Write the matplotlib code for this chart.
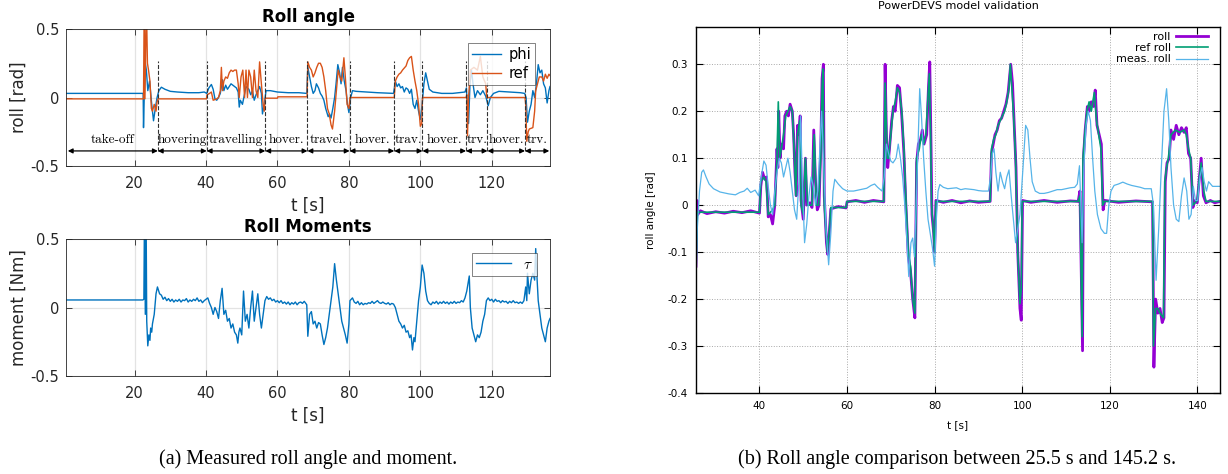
import numpy as np
import matplotlib
matplotlib.use("Agg")
import matplotlib.pyplot as plt

plt.rcParams["font.family"] = ["DejaVu Sans"]
plt.rcParams["mathtext.fontset"] = "cm"

# measured roll angle phi and reference (t [s], rad)
phi_pts = [
    (0.8, 0.03), (22.4, 0.03), (22.5, -0.22), (22.7, 0.0), (23.0, 0.25), (23.3, 0.2),
    (23.7, 0.05), (24.2, 0.12), (24.8, -0.05), (25.3, -0.17), (25.8, -0.08), (26.3, 0.0),
    (26.8, 0.05), (27.5, 0.075), (28.5, 0.06), (30, 0.045), (32, 0.04), (35, 0.035),
    (38, 0.035), (39.5, 0.04), (40.2, 0.03), (40.8, 0.07), (41.5, 0.095), (42.0, 0.06),
    (42.5, -0.01), (43.0, -0.02), (43.5, 0.0), (44.0, 0.03), (44.6, 0.13), (45.0, 0.05),
    (45.5, 0.09), (46.0, 0.06), (46.5, 0.08), (47.0, 0.1), (48.0, 0.08), (48.5, 0.07),
    (49.0, 0.04), (49.3, -0.07), (49.6, -0.02), (50.2, -0.05), (50.8, 0.03), (51.2, 0.08),
    (52.0, 0.06), (52.5, 0.02), (53.0, 0.05), (53.5, -0.02), (54.0, 0.02), (54.5, 0.05),
    (55.0, 0.08), (55.5, 0.03), (55.8, -0.12), (56.3, -0.05), (56.8, 0.05), (58, 0.05),
    (60, 0.04), (63, 0.035), (66, 0.035), (68.2, 0.03), (68.5, 0.22), (69.0, 0.15),
    (69.5, 0.08), (70.0, 0.03), (70.5, 0.05), (70.9, 0.1), (71.5, 0.07), (72.0, 0.03),
    (72.5, 0.01), (73.0, -0.02), (73.5, -0.08), (74.2, -0.14), (74.6, -0.12), (75.0, -0.15),
    (75.5, -0.08), (76.0, 0.0), (76.4, 0.1), (76.9, 0.24), (77.4, 0.18), (77.8, 0.1),
    (78.2, 0.22), (78.7, 0.12), (79.2, 0.05), (79.6, -0.05), (80.0, -0.11), (80.5, 0.0),
    (81.0, 0.05), (82, 0.045), (85, 0.04), (88, 0.035), (92.5, 0.03), (93.0, 0.12),
    (93.5, 0.08), (94.0, 0.1), (94.5, 0.07), (95.0, 0.08), (95.5, 0.04), (96.0, 0.07),
    (96.5, 0.06), (97.0, 0.03), (97.5, 0.06), (98.0, -0.05), (98.5, -0.08), (99.0, -0.02),
    (99.5, -0.1), (100.0, -0.16), (100.5, -0.05), (101.0, 0.1), (101.5, 0.18), (102.0, 0.12),
    (102.5, 0.06), (103.5, 0.04), (106, 0.03), (109, 0.03), (112.5, 0.04), (112.9, 0.07),
    (113.2, -0.1), (113.5, -0.19), (113.9, 0.1), (114.3, 0.2), (114.8, 0.09), (115.3, 0.0),
    (116, 0.05), (116.8, 0.02), (117.5, 0.05), (118.3, 0.01), (119.0, -0.06), (119.6, 0.0),
    (120.5, 0.03), (122, 0.045), (125, 0.04), (128, 0.035), (129.2, 0.03), (129.6, 0.0),
    (130.0, -0.18), (130.5, -0.1), (131.0, -0.05), (131.5, 0.05), (132.0, 0.0), (132.5, 0.1),
    (133.0, 0.24), (133.5, 0.18), (134.0, 0.2), (134.5, 0.1), (135.0, 0.07), (135.5, -0.04),
    (136.0, 0.05), (136.3, 0.08),
]
ref_pts = [
    (0.8, -0.01), (22.5, -0.01), (22.7, 0.7), (22.9, -0.01), (23.3, 0.7), (23.6, 0.25),
    (23.9, 0.2), (24.3, 0.12), (24.7, -0.08), (25.0, -0.1), (25.5, -0.05), (26.0, -0.1),
    (26.3, -0.03), (26.6, -0.01), (40.1, -0.01), (40.3, 0.02), (41.0, 0.03), (41.5, 0.04),
    (42.0, -0.02), (43.0, -0.01), (43.5, 0.0), (44.0, 0.05), (44.3, 0.22), (44.6, 0.05),
    (45.0, 0.12), (45.5, 0.15), (46.0, 0.14), (46.5, 0.18), (47.0, 0.2), (47.5, 0.19),
    (48.0, 0.2), (48.5, 0.2), (49.0, 0.1), (49.3, 0.0), (49.8, 0.15), (50.3, 0.2),
    (50.8, 0.0), (51.2, 0.2), (51.6, 0.0), (52.0, 0.2), (52.5, 0.15), (53.0, 0.0),
    (53.5, 0.2), (54.0, 0.05), (54.5, 0.0), (55.0, 0.26), (55.5, 0.1), (56.0, -0.05),
    (56.3, -0.1), (56.6, -0.005), (60, -0.005), (60.1, 0.005), (68.3, 0.005), (68.5, 0.26),
    (69.0, 0.22), (69.5, 0.2), (70.0, 0.15), (70.5, 0.18), (71.0, 0.22), (71.5, 0.25),
    (72.0, 0.25), (72.5, 0.22), (73.0, 0.15), (73.5, 0.05), (74.0, -0.08), (74.5, -0.12),
    (75.0, -0.2), (75.4, -0.23), (76.0, -0.1), (76.5, 0.05), (77.0, 0.2), (77.5, 0.15),
    (78.0, 0.12), (78.6, 0.29), (79.0, 0.15), (79.5, -0.05), (80.0, -0.08), (80.3, 0.0),
    (92.7, 0.0), (93.0, 0.12), (93.5, 0.15), (94.0, 0.17), (94.5, 0.18), (95.0, 0.2),
    (96.0, 0.23), (96.5, 0.27), (97.0, 0.29), (97.5, 0.3), (98.0, 0.2), (98.5, 0.12),
    (99.0, 0.05), (99.5, -0.05), (100.0, -0.21), (100.4, -0.19), (100.6, 0.0), (112.8, 0.0),
    (113.0, 0.02), (113.2, -0.28), (113.5, 0.0), (114.0, 0.2), (115.0, 0.22), (116.0, 0.2),
    (116.8, 0.3), (117.5, 0.15), (118.3, 0.1), (118.6, 0.0), (129.3, 0.0), (129.5, -0.05),
    (129.8, -0.32), (130.2, -0.25), (130.5, -0.23), (131.5, -0.22), (132.0, -0.1),
    (132.3, 0.05), (132.8, 0.1), (133.3, 0.15), (134.0, 0.15), (134.5, 0.12), (135.0, 0.17),
    (135.5, 0.14), (136.0, 0.17), (136.3, 0.16),
]
# roll moment tau (t [s], Nm)
tau_pts = [
    (0.8, 0.055), (22.3, 0.055), (22.6, 0.06), (22.8, 0.8), (23.0, -0.05), (23.2, 0.8),
    (23.4, -0.1), (23.7, -0.28), (24.0, -0.2), (24.3, -0.24), (24.5, -0.15), (24.8, -0.18),
    (25.0, -0.12), (25.5, -0.05), (26.0, 0.1), (26.4, 0.15), (27.0, 0.1), (27.5, 0.09),
    (28.0, 0.06), (28.5, 0.075), (29.0, 0.05), (29.5, 0.065), (30.0, 0.045), (30.5, 0.06),
    (31.0, 0.04), (31.5, 0.055), (32.0, 0.045), (32.5, 0.06), (33.0, 0.04), (33.5, 0.055),
    (34.0, 0.05), (34.5, 0.065), (35.0, 0.04), (35.5, 0.055), (36.0, 0.045), (36.5, 0.06),
    (37.0, 0.05), (37.5, 0.07), (38.0, 0.045), (38.5, 0.055), (39.0, 0.035), (39.5, 0.05),
    (40.0, 0.06), (40.5, 0.07), (41.0, 0.03), (41.5, 0.0), (42.0, -0.05), (42.5, 0.0),
    (43.0, -0.03), (43.5, -0.08), (44.0, 0.05), (44.5, 0.14), (45.0, -0.05), (45.5, -0.02),
    (46.0, -0.1), (46.5, -0.08), (47.0, -0.15), (47.5, -0.12), (48.0, -0.18), (48.5, -0.2),
    (48.9, -0.26), (49.2, -0.18), (49.5, -0.15), (50.0, -0.2), (50.5, 0.12), (51.0, -0.1),
    (51.5, -0.05), (52.0, -0.15), (52.5, 0.0), (53.0, 0.12), (53.5, -0.1), (54.0, 0.0),
    (54.5, 0.1), (55.0, -0.05), (55.5, -0.15), (56.0, -0.05), (56.5, 0.05), (57.0, 0.08),
    (57.5, 0.06), (58.0, 0.07), (58.5, 0.05), (59.0, 0.06), (59.5, 0.04), (60.0, 0.05),
    (60.5, 0.035), (61.0, 0.05), (61.5, 0.03), (62.0, 0.04), (62.5, 0.025), (63.0, 0.04),
    (63.5, 0.02), (64.0, 0.035), (64.5, 0.025), (65.0, 0.04), (65.5, 0.02), (66.0, 0.035),
    (66.5, 0.04), (67.0, 0.03), (67.5, 0.045), (68.2, 0.02), (68.5, -0.21), (69.0, -0.05),
    (69.5, -0.03), (70.0, -0.12), (70.5, -0.1), (71.0, -0.15), (71.5, -0.11), (72.0, -0.12),
    (72.5, -0.2), (73.0, -0.27), (73.5, -0.22), (74.0, -0.15), (74.5, -0.05), (75.0, 0.05),
    (75.5, 0.15), (76.0, 0.32), (76.5, 0.2), (77.0, 0.1), (77.5, 0.0), (78.0, -0.1),
    (78.5, -0.15), (79.0, -0.2), (79.5, -0.26), (80.0, -0.12), (80.3, 0.05), (81.0, 0.07),
    (81.5, 0.04), (82.0, 0.03), (82.5, 0.045), (83.0, 0.02), (83.5, 0.035), (84.0, 0.02),
    (84.5, 0.03), (85.0, 0.025), (85.5, 0.035), (86.0, 0.03), (86.5, 0.045), (87.0, 0.03),
    (87.5, 0.04), (88.0, 0.05), (88.5, 0.035), (89.0, 0.03), (89.5, 0.04), (90.0, 0.03),
    (90.5, 0.025), (91.0, 0.035), (91.5, 0.02), (92.0, 0.03), (92.5, 0.025), (93.0, 0.0),
    (93.5, -0.05), (94.0, -0.1), (94.5, -0.12), (95.0, -0.15), (95.5, -0.13), (96.0, -0.18),
    (96.5, -0.17), (97.0, -0.22), (97.4, -0.2), (97.8, -0.31), (98.2, -0.22), (98.5, -0.25),
    (99.0, -0.1), (99.5, 0.05), (100.0, 0.15), (100.5, 0.31), (101.0, 0.25), (101.5, 0.12),
    (102.0, 0.05), (102.5, 0.03), (103.0, 0.02), (103.5, 0.04), (104.0, 0.03), (104.5, 0.045),
    (105.0, 0.025), (105.5, 0.04), (106.0, 0.03), (106.5, 0.045), (107.0, 0.03),
    (107.5, 0.04), (108.0, 0.025), (108.5, 0.04), (109.0, 0.03), (109.5, 0.045),
    (110.0, 0.03), (110.5, 0.04), (111.0, 0.035), (111.5, 0.05), (112.0, 0.04), (112.5, 0.07),
    (113.0, 0.12), (113.7, 0.23), (114.0, 0.0), (114.5, -0.15), (115.0, -0.2), (115.5, -0.25),
    (116.0, -0.2), (116.5, -0.22), (117.0, -0.18), (117.5, -0.1), (118.0, -0.05),
    (118.5, 0.05), (119.0, 0.07), (119.5, 0.05), (120.0, 0.06), (120.5, 0.04), (121.0, 0.06),
    (121.5, 0.045), (122.0, 0.05), (122.5, 0.035), (123.0, 0.05), (123.5, 0.04),
    (124.0, 0.045), (124.5, 0.03), (125.0, 0.045), (125.5, 0.035), (126.0, 0.05),
    (126.5, 0.035), (127.0, 0.04), (127.5, 0.03), (128.0, 0.04), (128.5, 0.03),
    (129.0, 0.05), (129.5, 0.15), (129.8, 0.05), (130.0, 0.25), (130.5, 0.1), (131.0, 0.2),
    (131.5, 0.25), (132.0, 0.2), (132.3, 0.43), (132.7, 0.2), (133.0, 0.05), (133.5, -0.05),
    (134.0, -0.15), (134.5, -0.2), (135.0, -0.25), (135.5, -0.15), (136.0, -0.1),
    (136.3, -0.08),
]

# flight phases: boundaries [s] and their names
phase_edges = [1.3, 26.5, 40.2, 56.6, 68.4, 80.2, 92.7, 100.6, 112.8, 118.8, 129.3, 136.1]
phase_names = ["take-off", "hovering", "travelling", "hover.", "travel.", "hover.",
               "trav.", "hover.", "trv.", "hover.", "trv."]

# PowerDEVS simulation vs. measurement (t [s], rad)
sim_roll_pts = [
    (25.5, -0.13), (25.7, 0.01), (25.9, -0.02), (26.5, -0.012), (28, -0.018), (30, -0.014),
    (32, -0.017), (34, -0.013), (36, -0.016), (38, -0.012), (40.0, -0.017), (40.3, 0.04),
    (40.7, 0.07), (41.2, 0.055), (41.6, 0.06), (42.0, -0.025), (42.5, -0.02), (43.0, -0.04),
    (43.5, 0.0), (44.0, 0.12), (44.2, 0.08), (44.4, 0.2), (44.7, 0.1), (45.0, 0.13),
    (45.5, 0.12), (45.8, 0.19), (46.2, 0.2), (46.6, 0.19), (47.0, 0.215), (47.5, 0.2),
    (47.8, 0.15), (48.1, 0.07), (48.4, 0.02), (48.7, 0.17), (49.0, 0.15), (49.3, 0.19),
    (49.5, 0.01), (50.0, -0.03), (50.5, 0.1), (50.8, 0.0), (51.5, 0.005), (52.0, -0.005),
    (52.4, 0.16), (52.8, 0.05), (53.2, -0.01), (53.6, 0.0), (54.0, 0.12), (54.3, 0.27),
    (54.6, 0.3), (54.8, 0.02), (55.3, -0.08), (55.6, -0.105), (56.0, -0.05), (56.3, -0.008),
    (58, -0.003), (59.8, -0.006), (60.0, 0.007), (62, 0.01), (64, 0.006), (66, 0.01),
    (68.4, 0.007), (68.7, 0.3), (69.0, 0.15), (69.3, 0.08), (69.7, 0.12), (70.2, 0.18),
    (70.6, 0.21), (71.0, 0.2), (71.5, 0.255), (72.0, 0.25), (72.5, 0.19), (73.0, 0.11),
    (73.4, 0.01), (74.0, -0.11), (74.5, -0.14), (75.0, -0.2), (75.5, -0.24), (75.9, 0.09),
    (76.3, 0.13), (76.8, 0.14), (77.2, 0.16), (77.6, 0.13), (78.2, 0.15), (78.6, 0.25),
    (78.9, 0.305), (79.2, 0.12), (79.4, -0.02), (79.8, -0.06), (80.0, -0.1), (80.3, 0.01),
    (82, 0.006), (84, 0.01), (86, 0.005), (88, 0.009), (90, 0.006), (92.7, 0.008),
    (93.0, 0.11), (93.4, 0.13), (93.8, 0.15), (94.3, 0.16), (94.8, 0.18), (95.3, 0.185),
    (95.8, 0.2), (96.3, 0.215), (96.8, 0.24), (97.1, 0.27), (97.4, 0.3), (97.8, 0.26),
    (98.2, 0.17), (98.6, 0.08), (99.0, -0.1), (99.5, -0.22), (99.8, -0.245), (100.1, 0.01),
    (102, 0.006), (105, 0.01), (108, 0.006), (111, 0.009), (112.8, 0.008), (113.2, 0.03),
    (113.8, -0.31), (114.0, 0.1), (114.4, 0.16), (114.9, 0.21), (115.3, 0.2), (115.8, 0.22),
    (116.3, 0.21), (116.7, 0.245), (117.1, 0.17), (117.6, 0.15), (118.1, 0.13),
    (118.5, -0.01), (118.9, 0.01), (122, 0.006), (126, 0.009), (129.8, 0.007),
    (130.1, -0.345), (130.5, -0.2), (131.0, -0.23), (131.5, -0.22), (132.0, -0.25),
    (132.4, -0.24), (132.7, 0.05), (133.1, 0.09), (133.6, 0.1), (134.0, 0.16), (134.6, 0.14),
    (135.2, 0.17), (135.8, 0.15), (136.4, 0.165), (137.0, 0.155), (137.5, 0.165),
    (138.0, 0.11), (138.5, 0.1), (139.0, -0.005), (139.5, 0.01), (140.0, 0.005),
    (140.5, 0.06), (140.9, 0.1), (141.4, 0.02), (142.0, 0.005), (143, 0.01), (144, 0.005),
    (145.2, 0.008),
]
sim_ref_pts = [
    (25.5, -0.15), (25.8, -0.015), (40.0, -0.015), (40.3, 0.05), (41.0, 0.06), (41.5, 0.05),
    (42.0, -0.02), (43.0, -0.01), (43.5, 0.0), (44.0, 0.1), (44.3, 0.22), (44.6, 0.1),
    (45.0, 0.12), (45.5, 0.15), (46.0, 0.19), (46.5, 0.2), (47.0, 0.21), (47.5, 0.2),
    (48.0, 0.1), (48.3, 0.02), (48.7, 0.15), (49.2, 0.18), (49.5, 0.0), (50.0, -0.02),
    (50.5, 0.1), (51.0, 0.0), (52.0, 0.0), (52.5, 0.15), (53.0, 0.0), (53.5, 0.0),
    (54.0, 0.1), (54.3, 0.25), (54.5, 0.29), (54.8, 0.0), (55.5, -0.1), (56.0, -0.05),
    (56.3, -0.005), (59.8, -0.005), (60.0, 0.008), (68.4, 0.008), (68.7, 0.26), (69.2, 0.1),
    (69.5, 0.1), (70.0, 0.15), (70.5, 0.2), (71.0, 0.22), (71.5, 0.25), (72.0, 0.24),
    (72.5, 0.2), (73.0, 0.12), (73.5, 0.0), (74.0, -0.1), (74.5, -0.13), (75.0, -0.2),
    (75.5, -0.23), (75.9, 0.1), (76.5, 0.12), (77.0, 0.15), (77.5, 0.13), (78.0, 0.15),
    (78.8, 0.28), (79.1, 0.15), (79.3, 0.0), (79.7, -0.05), (80.0, -0.1), (80.3, 0.008),
    (92.7, 0.008), (93.0, 0.12), (93.5, 0.14), (94.0, 0.15), (94.5, 0.17), (95.0, 0.18),
    (95.5, 0.19), (96.0, 0.2), (96.5, 0.22), (97.0, 0.25), (97.3, 0.3), (98.0, 0.2),
    (98.5, 0.1), (99.0, -0.1), (99.5, -0.21), (99.8, -0.18), (100.0, 0.008), (112.8, 0.008),
    (113.2, 0.02), (113.7, -0.28), (113.9, 0.1), (114.3, 0.15), (114.8, 0.2), (115.3, 0.22),
    (115.8, 0.2), (116.5, 0.24), (117.0, 0.18), (117.5, 0.15), (118.0, 0.12), (118.4, 0.0),
    (118.8, 0.008), (129.8, 0.008), (130.0, -0.3), (130.5, -0.22), (131.0, -0.22),
    (131.5, -0.23), (132.3, -0.24), (132.6, 0.05), (133.0, 0.08), (133.4, 0.1), (134.0, 0.15),
    (135.0, 0.16), (136.0, 0.155), (137.0, 0.16), (137.5, 0.15), (138.0, 0.12), (138.5, 0.1),
    (139.0, 0.0), (140.0, 0.01), (140.4, 0.05), (140.9, 0.09), (141.5, 0.03), (142.0, 0.008),
    (145.2, 0.008),
]
meas_roll_pts = [
    (25.5, -0.15), (25.8, -0.05), (26.3, 0.03), (26.8, 0.07), (27.2, 0.075), (27.8, 0.06),
    (28.5, 0.045), (29.5, 0.035), (31, 0.028), (33, 0.024), (34.5, 0.022), (35.5, 0.027),
    (36.5, 0.03), (37.2, 0.036), (38, 0.027), (39, 0.032), (39.8, 0.02), (40.4, 0.06),
    (41.0, 0.094), (41.5, 0.085), (42.0, 0.04), (42.5, 0.0), (43.0, -0.02), (43.5, 0.03),
    (44.0, 0.07), (44.5, 0.1), (45.0, 0.09), (45.5, 0.06), (46.0, 0.08), (46.5, 0.1),
    (47.0, 0.07), (47.5, 0.03), (48.0, -0.01), (48.5, -0.03), (49.0, 0.05), (49.4, 0.19),
    (49.8, 0.05), (50.3, -0.08), (50.8, -0.04), (51.3, 0.02), (51.8, 0.06), (52.3, 0.04),
    (52.8, 0.0), (53.3, 0.03), (53.8, 0.12), (54.2, 0.2), (54.7, 0.08), (55.2, -0.05),
    (55.8, -0.127), (56.3, -0.06), (56.8, 0.03), (57.2, 0.055), (58, 0.045), (59, 0.035),
    (60, 0.03), (61.5, 0.03), (63, 0.033), (64.5, 0.036), (65.5, 0.042), (66.3, 0.045),
    (67, 0.038), (68, 0.03), (68.5, 0.06), (69.0, 0.13), (69.5, 0.11), (70.0, 0.094),
    (70.5, 0.09), (71.2, 0.1), (71.7, 0.13), (72.2, 0.1), (72.7, 0.06), (73.2, 0.0),
    (73.7, -0.08), (74.1, -0.152), (74.6, -0.08), (75.0, -0.07), (75.4, -0.11), (75.8, 0.0),
    (76.2, 0.12), (76.6, 0.248), (77.0, 0.19), (77.5, 0.1), (78.0, 0.03), (78.5, -0.03),
    (79.0, -0.06), (79.5, -0.09), (80.0, -0.13), (80.4, -0.03), (80.8, 0.03), (81.2, 0.044),
    (82, 0.038), (83, 0.035), (84, 0.036), (85, 0.037), (86, 0.033), (87, 0.035), (88, 0.034),
    (89, 0.033), (90, 0.031), (91, 0.03), (92.3, 0.03), (92.8, 0.06), (93.2, 0.11),
    (93.6, 0.12), (94.0, 0.07), (94.5, 0.03), (95.0, 0.07), (95.5, 0.05), (96.0, 0.035),
    (96.5, 0.06), (97.0, 0.075), (97.5, 0.02), (98.0, -0.03), (98.5, -0.08), (99.0, -0.05),
    (99.5, -0.02), (100.2, 0.08), (100.8, 0.17), (101.3, 0.16), (101.8, 0.1), (102.3, 0.05),
    (103, 0.03), (104, 0.025), (105, 0.025), (106, 0.027), (107, 0.03), (108, 0.033),
    (109, 0.033), (110, 0.035), (111, 0.037), (112, 0.038), (112.6, 0.045), (113.1, 0.084),
    (113.4, 0.0), (113.7, -0.08), (114.1, 0.08), (114.6, 0.17), (115.1, 0.2), (115.6, 0.18),
    (116.1, 0.1), (116.6, 0.03), (117.2, -0.02), (118.0, -0.05), (118.8, -0.06),
    (119.3, -0.06), (119.8, 0.0), (120.3, 0.03), (121, 0.042), (122, 0.045), (123, 0.049),
    (124, 0.045), (125, 0.042), (126, 0.04), (127, 0.038), (128, 0.035), (129.5, 0.035),
    (130.0, 0.0), (130.6, -0.16), (131.2, -0.05), (131.8, 0.08), (132.4, 0.2),
    (133.0, 0.248), (133.5, 0.18), (134.0, 0.08), (134.6, 0.0), (135.2, -0.03),
    (135.8, -0.035), (136.4, 0.02), (137.0, 0.058), (137.6, 0.03), (138.1, -0.03),
    (138.6, -0.02), (139.1, 0.04), (139.6, 0.01), (140.1, 0.01), (140.6, 0.06),
    (141.1, 0.08), (141.6, 0.05), (142.1, 0.03), (142.6, 0.05), (143.5, 0.04), (145.2, 0.04),
]

W, H = 1228, 474
MATLAB_BLUE = "#0072bd"
MATLAB_ORANGE = "#d95319"
DARK = "#262626"


def xy(pts):
    arr = np.array(pts, dtype=float)
    return arr[:, 0], arr[:, 1]


def matlab_axes(ax, ylabel, title):
    ax.set_xlim(0.8, 136.3)
    ax.set_ylim(-0.5, 0.5)
    ax.set_xticks(np.arange(20, 121, 20))
    ax.set_yticks([-0.5, 0, 0.5])
    ax.set_yticklabels(["-0.5", "0", "0.5"])
    ax.grid(True, color="#e3e3e3", lw=0.9)
    ax.set_axisbelow(True)
    ax.tick_params(direction="in", length=4, width=0.6, colors=DARK, labelsize=10.5,
                   top=True, right=True, pad=5)
    ax.tick_params(axis="x", pad=7)
    for s in ax.spines.values():
        s.set_color(DARK)
        s.set_linewidth(0.6)
    ax.set_xlabel("t [s]", fontsize=12, color=DARK, labelpad=4)
    ax.set_ylabel(ylabel, fontsize=12, color=DARK, labelpad=2)
    ax.set_title(title, fontsize=12, fontweight="bold", pad=5)


fig = plt.figure(figsize=(W / 100, H / 100), dpi=100)
ax1 = fig.add_axes([66 / W, 1 - 166 / H, 484 / W, 137 / H])
ax2 = fig.add_axes([66 / W, 1 - 376 / H, 484 / W, 137 / H])
ax3 = fig.add_axes([696 / W, 1 - 393 / H, 524 / W, 366.3 / H])

# --- roll angle -------------------------------------------------------------
matlab_axes(ax1, "roll [rad]", "Roll angle")
t, v = xy(phi_pts)
ax1.plot(t, v, color=MATLAB_BLUE, lw=1.0, label="phi")
t, v = xy(ref_pts)
ax1.plot(t, v, color=MATLAB_ORANGE, lw=1.0, label="ref")

y_arrow = -0.39
ax1.vlines(phase_edges[1:-1], y_arrow, 0.265, colors="#333333", linestyles="--", lw=0.8)
for a, b, name in zip(phase_edges[:-1], phase_edges[1:], phase_names):
    ax1.annotate("", xy=(b, y_arrow), xytext=(a, y_arrow),
                 arrowprops=dict(arrowstyle="<|-|>", color="black", lw=0.9,
                                 mutation_scale=7, shrinkA=0, shrinkB=0))
    ax1.text((a + b) / 2, y_arrow + 0.035, name, ha="center", va="bottom",
             family="cmr10", fontsize=9.5)

leg = ax1.legend(loc="upper right", bbox_to_anchor=(0.97, 0.9), fontsize=10.5,
                 fancybox=False, edgecolor=DARK, handlelength=2.0, handletextpad=0.5,
                 borderpad=0.3, labelspacing=0.25, borderaxespad=0)
leg.get_frame().set_linewidth(0.5)

# --- roll moments -----------------------------------------------------------
matlab_axes(ax2, "moment [Nm]", "Roll Moments")
t, v = xy(tau_pts)
ax2.plot(t, v, color=MATLAB_BLUE, lw=1.0, label=r"$\tau$")
leg = ax2.legend(loc="upper right", bbox_to_anchor=(0.973, 0.898), fontsize=11,
                 fancybox=False, edgecolor=DARK, handlelength=2.3, borderpad=0.25,
                 borderaxespad=0)
leg.get_frame().set_linewidth(0.5)

# --- PowerDEVS validation ---------------------------------------------------
t, v = xy(sim_roll_pts)
ax3.plot(t, v, color="#9400d3", lw=2.0, label="roll")
t, v = xy(sim_ref_pts)
ax3.plot(t, v, color="#009e73", lw=1.2, label="ref roll")
t, v = xy(meas_roll_pts)
ax3.plot(t, v, color="#56b4e9", lw=0.9, label="meas. roll")

ax3.set_xlim(25.5, 145.2)
ax3.set_ylim(-0.4, 0.38)
ax3.set_xticks(np.arange(40, 141, 20))
yt = np.round(np.arange(-0.4, 0.31, 0.1), 1)
ax3.set_yticks(yt)
ax3.set_yticklabels(["0" if y == 0 else f"{y:g}" for y in yt])
ax3.grid(True, color="#a8a8a8", ls=":", lw=0.7)
ax3.tick_params(direction="in", length=5, width=0.8, labelsize=7.5, top=True, right=True,
                pad=6)
for s in ax3.spines.values():
    s.set_linewidth(1.0)
ax3.set_title("PowerDEVS model validation", fontsize=8, pad=13)
ax3.set_xlabel("t [s]", fontsize=7.5, labelpad=6)
ax3.set_ylabel("roll angle [rad]", fontsize=7.5, labelpad=8)
ax3.legend(loc="upper right", bbox_to_anchor=(0.977, 0.985), frameon=False, fontsize=8,
           markerfirst=False, handlelength=2.9, handletextpad=0.45, labelspacing=0.1,
           borderpad=0, borderaxespad=0)

# --- captions ---------------------------------------------------------------
fig.text(308 / W, 1 - 459 / H, "(a) Measured roll angle and moment.", ha="center",
         va="center", family="Liberation Serif", fontsize=14.5)
fig.text(957 / W, 1 - 459 / H, "(b) Roll angle comparison between 25.5 s and 145.2 s.",
         ha="center", va="center", family="Liberation Serif", fontsize=14.5)

fig.savefig("out.png", dpi=100)
